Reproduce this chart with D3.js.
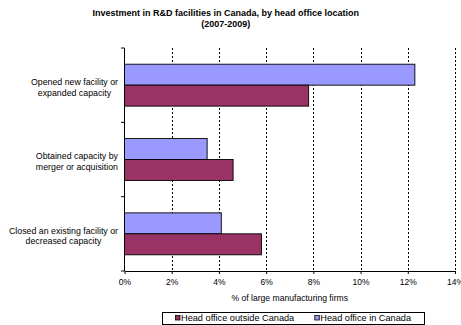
<!DOCTYPE html>
<html>
<head>
<meta charset="utf-8">
<script src="https://cdn.jsdelivr.net/npm/d3@7"></script>
<style>
  html, body { margin: 0; padding: 0; background: #fff; }
  svg { display: block; font-family: "Liberation Sans", Arial, sans-serif; }
</style>
</head>
<body>
<svg id="chart" width="461" height="325"></svg>
<script>
// Investment in R&D facilities in Canada, by head office location
const categories = [
  ["Opened new facility or", "expanded capacity"],
  ["Obtained capacity by", "merger or acquisition"],
  ["Closed an existing facility or", "decreased capacity"]
];
const seriesNames = ["Head office in Canada", "Head office outside Canada"];
const headOfficeInCanada = [12.3, 3.5, 4.1];
const headOfficeOutsideCanada = [7.8, 4.6, 5.8];
const xTicks = [0, 2, 4, 6, 8, 10, 12, 14];
const legendOrder = ["Head office outside Canada", "Head office in Canada"];
const colors = { "Head office in Canada": "#9999FF", "Head office outside Canada": "#993366" };

const svg = d3.select("#chart");
const plot = { left: 124.5, right: 455, top: 48, bottom: 271 };

const x = d3.scaleLinear().domain([0, 14]).range([plot.left, plot.right]);
const y = d3.scaleBand().domain(d3.range(categories.length)).range([plot.top, plot.bottom]).padding(0);
const bw = y.bandwidth();
const ySub = d3.scaleBand().domain(seriesNames).range([bw * 0.218, bw * 0.782]).padding(0);

const seriesValues = {
  "Head office in Canada": headOfficeInCanada,
  "Head office outside Canada": headOfficeOutsideCanada
};

// Title
const title = svg.append("g").attr("font-weight", "bold").attr("font-size", 9).attr("text-anchor", "middle");
title.append("text").attr("x", 225.7).attr("y", 15.5).text("Investment in R&D facilities in Canada, by head office location");
title.append("text").attr("x", 225.7).attr("y", 26.5).text("(2007-2009)");

// Dashed vertical gridlines
svg.append("g").selectAll("line").data(xTicks.filter(d => d > 0)).join("line")
  .attr("x1", d => Math.round(x(d)) + 0.5).attr("x2", d => Math.round(x(d)) + 0.5)
  .attr("y1", plot.top).attr("y2", plot.bottom)
  .attr("stroke", "#000").attr("stroke-width", 1).attr("stroke-dasharray", "2,2");

// Bars
const groups = svg.append("g").selectAll("g").data(categories).join("g")
  .attr("transform", (d, i) => `translate(0,${y(i)})`);
groups.selectAll("rect").data((d, i) => seriesNames.map(s => ({ s, v: seriesValues[s][i] }))).join("rect")
  .attr("x", x(0))
  .attr("y", d => ySub(d.s))
  .attr("width", d => x(d.v) - x(0))
  .attr("height", ySub.bandwidth())
  .attr("fill", d => colors[d.s])
  .attr("stroke", "#000").attr("stroke-width", 0.9);

// X axis
const xAxis = d3.axisBottom(x).tickValues(xTicks).tickFormat(d => d + "%").tickSize(3).tickSizeOuter(0);
const gx = svg.append("g").attr("transform", `translate(0,${plot.bottom})`).call(xAxis);
gx.select(".domain").attr("stroke", "#000");
gx.selectAll(".tick line").attr("stroke", "#000");
gx.selectAll(".tick text").attr("font-size", 8.5).attr("fill", "#000").attr("y", 11).attr("dy", "0.32em").attr("font-family", "Liberation Sans, Arial, sans-serif");

// Y axis: line with ticks at category boundaries
const boundaries = d3.range(categories.length + 1).map(i => plot.top + i * bw);
svg.append("line").attr("x1", plot.left).attr("x2", plot.left).attr("y1", plot.top).attr("y2", plot.bottom)
  .attr("stroke", "#000");
svg.append("g").selectAll("line").data(boundaries).join("line")
  .attr("x1", plot.left - 3.5).attr("x2", plot.left).attr("y1", d => d).attr("y2", d => d)
  .attr("stroke", "#000");

// Category labels: block right-aligned, lines centred inside the block
const catG = svg.append("g").attr("font-size", 8.8).attr("fill", "#000").attr("text-anchor", "middle");
categories.forEach((lines, i) => {
  const c = y(i) + bw / 2;
  const texts = lines.map((t, j) => catG.append("text").attr("y", c - 0.2 + j * 10.8).text(t));
  const maxW = d3.max(texts, t => t.node().getComputedTextLength());
  texts.forEach(t => t.attr("x", 118 - maxW / 2));
});

// Axis title
svg.append("text").attr("x", 289.7).attr("y", 301).attr("text-anchor", "middle")
  .attr("font-size", 8.6).text("% of large manufacturing firms");

// Legend
const lg = svg.append("g");
lg.append("rect").attr("x", 162.5).attr("y", 312.5).attr("width", 262).attr("height", 12)
  .attr("fill", "#fff").attr("stroke", "#000").attr("stroke-width", 1);
const legendX = [175, 314.3];
legendOrder.forEach((name, i) => {
  lg.append("rect").attr("x", legendX[i] + 0.5).attr("y", 315.5).attr("width", 4.5).attr("height", 4.5)
    .attr("fill", colors[name]).attr("stroke", "#000").attr("stroke-width", 0.8);
  lg.append("text").attr("x", legendX[i] + 6).attr("y", 321).attr("font-size", 9.2).text(name);
});
</script>
</body>
</html>
